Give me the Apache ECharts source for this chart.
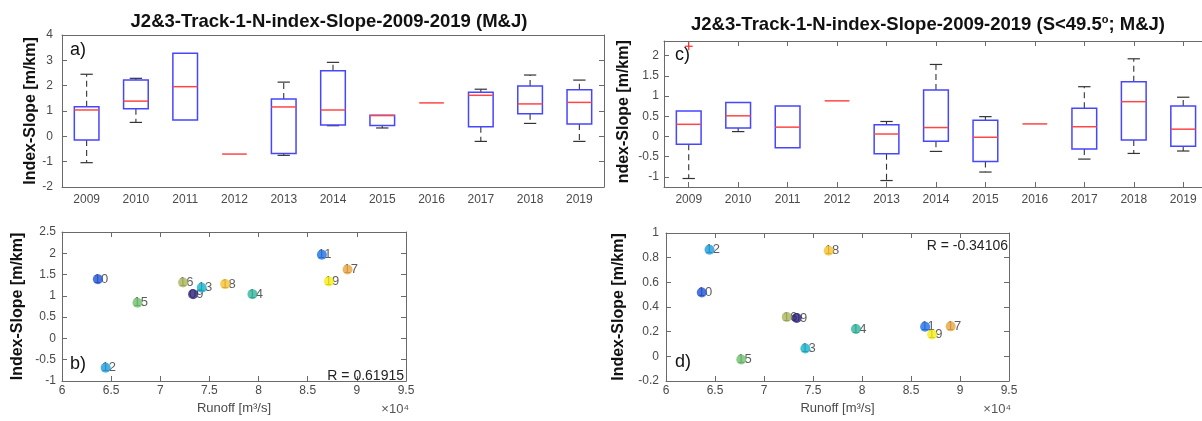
<!DOCTYPE html>
<html><head><meta charset="utf-8">
<script src="https://cdn.jsdelivr.net/npm/echarts@6/dist/echarts.min.js"></script>
<style>html,body{margin:0;padding:0;background:#fff}#c{width:1202px;height:421px}</style>
</head><body><div id="c"></div><script>
// ---------- data ----------
const years = ['2009','2010','2011','2012','2013','2014','2015','2016','2017','2018','2019'];
const pointLabels = ['09','10','11','12','13','14','15','16','17','18','19'];
// box stats per year: [lower whisker, q1, median, q3, upper whisker]
const boxA = [
  [-1.04, -0.14, 1.04, 1.17, 2.45],
  [0.55, 1.09, 1.39, 2.22, 2.29],
  [0.64, 0.64, 1.96, 3.28, 3.28],
  [-0.70, -0.70, -0.70, -0.70, -0.70],
  [-0.75, -0.68, 1.16, 1.47, 2.14],
  [0.42, 0.45, 1.04, 2.59, 2.92],
  [0.33, 0.43, 0.82, 0.83, 0.83],
  [1.32, 1.32, 1.32, 1.32, 1.32],
  [-0.20, 0.38, 1.62, 1.74, 1.86],
  [0.51, 0.89, 1.28, 1.99, 2.42],
  [-0.20, 0.49, 1.34, 1.84, 2.22]
];
const boxC = [
  [-1.04, -0.19, 0.30, 0.63, 0.63],
  [0.12, 0.21, 0.51, 0.84, 0.84],
  [-0.28, -0.28, 0.23, 0.75, 0.75],
  [0.88, 0.88, 0.88, 0.88, 0.88],
  [-1.09, -0.43, 0.06, 0.29, 0.37],
  [-0.37, -0.12, 0.22, 1.15, 1.78],
  [-0.88, -0.62, -0.02, 0.40, 0.49],
  [0.31, 0.31, 0.31, 0.31, 0.31],
  [-0.56, -0.31, 0.24, 0.70, 1.23],
  [-0.42, -0.09, 0.86, 1.35, 1.92],
  [-0.36, -0.24, 0.18, 0.75, 0.97]
];
const outliersC = [[0, 2.23]];
// runoff [m3/s] per year 2009..2019
const runoff = [73340, 63650, 86440, 64440, 74220, 79380, 67680, 72320, 89050, 76600, 87150];
const slopeB = [1.04, 1.393, 1.966, -0.687, 1.189, 1.040, 0.836, 1.315, 1.621, 1.276, 1.338];
const slopeD = [0.311, 0.517, 0.240, 0.864, 0.064, 0.221, -0.026, 0.319, 0.243, 0.856, 0.178];
const yearColors = ['#2b2178','#2152d6','#1c6fe3','#1d9bdc','#15b2c9','#30b79c','#6fbf6e','#a9b55a','#eaa53e','#f6c22e','#f7ee12'];
const yTicksC = [-1, -0.5, 0, 0.5, 1, 1.5, 2];
const yearIdx = years.map((y, i) => i);
const titleA = 'J2&3-Track-1-N-index-Slope-2009-2019 (M&J)';
const yName = 'Index-Slope [m/km]';
const xName = 'Runoff [m³/s]';
const rB = 'R = 0.61915';
const rD = 'R = -0.34106';

// ---------- styles ----------
const FONT = '"Liberation Sans", Arial, Helvetica, sans-serif';
const frame = {color: '#6a6a6a', width: 1};
const labelColor = '#4a4a4a';

function renderBox(params, api) {
  const i = api.value(0);
  const lo = api.value(1), q1 = api.value(2), md = api.value(3), q3 = api.value(4), hi = api.value(5);
  const band = api.size([1, 0])[0];
  const bw = band * 0.5, cw = band * 0.25;
  const pLo = api.coord([i, lo]), pQ1 = api.coord([i, q1]), pMd = api.coord([i, md]);
  const pQ3 = api.coord([i, q3]), pHi = api.coord([i, hi]);
  const x = pMd[0];
  const ch = [];
  const ws = {stroke: '#333', lineWidth: 1.1, lineDash: [6, 4]};
  const cs = {stroke: '#333', lineWidth: 1.2};
  if (hi > q3) {
    ch.push({type: 'line', shape: {x1: x, y1: pQ3[1], x2: x, y2: pHi[1]}, style: ws});
    ch.push({type: 'line', shape: {x1: x - cw / 2, y1: pHi[1], x2: x + cw / 2, y2: pHi[1]}, style: cs});
  }
  if (lo < q1) {
    ch.push({type: 'line', shape: {x1: x, y1: pQ1[1], x2: x, y2: pLo[1]}, style: ws});
    ch.push({type: 'line', shape: {x1: x - cw / 2, y1: pLo[1], x2: x + cw / 2, y2: pLo[1]}, style: cs});
  }
  if (q3 > q1) {
    ch.push({type: 'rect', shape: {x: x - bw / 2, y: pQ3[1], width: bw, height: pQ1[1] - pQ3[1]},
      style: {fill: 'none', stroke: '#4646ff', lineWidth: 1.5}});
  }
  ch.push({type: 'line', shape: {x1: x - bw / 2, y1: pMd[1], x2: x + bw / 2, y2: pMd[1]},
    style: {stroke: '#ff4646', lineWidth: 1.5}});
  return {type: 'group', children: ch};
}
function renderPlus(params, api) {
  const p = api.coord([api.value(0), api.value(1)]);
  const s = {stroke: '#ff3030', lineWidth: 1.2};
  return {type: 'group', children: [
    {type: 'line', shape: {x1: p[0] - 4, y1: p[1], x2: p[0] + 4, y2: p[1]}, style: s},
    {type: 'line', shape: {x1: p[0], y1: p[1] - 4, x2: p[0], y2: p[1] + 4}, style: s}
  ]};
}

function catAxis(g, pos) {
  return {gridIndex: g, type: 'category', data: years, position: pos, boundaryGap: true,
    axisLine: {onZero: false, lineStyle: frame},
    axisTick: {inside: true, alignWithLabel: true, length: 5, interval: 0, lineStyle: frame},
    axisLabel: {show: pos === 'bottom', color: labelColor, fontSize: 12, margin: 7, fontFamily: FONT, interval: 0},
    splitLine: {show: false}};
}
// panel c: year index axis (the panel runs past the right edge of the picture)
function idxAxis(g, pos) {
  return {gridIndex: g, type: 'value', position: pos, min: -0.5, max: 10.38,
    axisLine: {show: true, onZero: false, lineStyle: frame},
    axisTick: {show: true, inside: true, length: 5, lineStyle: frame, customValues: yearIdx},
    axisLabel: {show: pos === 'bottom', color: labelColor, fontSize: 12, margin: 7, fontFamily: FONT,
      customValues: yearIdx, formatter: v => years[Math.round(v)]},
    splitLine: {show: false}};
}
function valAxis(g, pos, min, max, interval, extra) {
  const a = {gridIndex: g, type: 'value', position: pos, min: min, max: max, interval: interval,
    axisLine: {show: true, onZero: false, lineStyle: frame},
    axisTick: {show: true, inside: true, length: 5, lineStyle: frame},
    axisLabel: {show: pos === 'bottom' || pos === 'left', color: labelColor, fontSize: 12, margin: 6, fontFamily: FONT},
    splitLine: {show: false}};
  return Object.assign(a, extra || {});
}
const yNameStyle = {color: '#111', fontSize: 16, fontWeight: 'bold', fontFamily: FONT};
const xNameStyle = {color: '#4a4a4a', fontSize: 13, fontFamily: FONT};
const runFmt = v => String(v / 1e4);

const option = {
  animation: false,
  backgroundColor: '#fff',
  title: [
    {text: titleA, left: 324, top: 7, textAlign: 'center',
      textStyle: {fontSize: 18.5, fontWeight: 'bold', color: '#111', fontFamily: FONT}},
    {text: '{t|J2&3-Track-1-N-index-Slope-2009-2019 (S<49.5}{s|o}{t|; M&J)}', left: 923, top: 9, textAlign: 'center',
      textStyle: {fontFamily: FONT, rich: {
        t: {fontSize: 18.5, fontWeight: 'bold', color: '#111', fontFamily: FONT, lineHeight: 22},
        s: {fontSize: 11, fontWeight: 'bold', color: '#111', fontFamily: FONT, verticalAlign: 'top', lineHeight: 22}
      }}}
  ],
  grid: [
    {left: 62, top: 35, width: 542, height: 152},
    {left: 664, top: 41, width: 538, height: 146},
    {left: 62, top: 232, width: 344, height: 149},
    {left: 666, top: 233, width: 343, height: 148}
  ],
  xAxis: [
    catAxis(0, 'bottom'), catAxis(0, 'top'),
    idxAxis(1, 'bottom'), idxAxis(1, 'top'),
    valAxis(2, 'bottom', 60000, 95000, 5000, {axisLabel: {color: labelColor, fontSize: 12, margin: 4, fontFamily: FONT, formatter: runFmt},
      name: xName, nameLocation: 'middle', nameGap: 21, nameTextStyle: xNameStyle}),
    valAxis(2, 'top', 60000, 95000, 5000),
    valAxis(3, 'bottom', 60000, 95000, 5000, {axisLabel: {color: labelColor, fontSize: 12, margin: 4, fontFamily: FONT, formatter: runFmt},
      name: xName, nameLocation: 'middle', nameGap: 21, nameTextStyle: xNameStyle}),
    valAxis(3, 'top', 60000, 95000, 5000)
  ],
  yAxis: [
    valAxis(0, 'left', -2, 4, 1, {axisLabel: {color: labelColor, fontSize: 12, margin: 9, fontFamily: FONT},
      name: yName, nameLocation: 'middle', nameGap: 22, nameRotate: 90, nameTextStyle: yNameStyle}),
    valAxis(0, 'right', -2, 4, 1),
    valAxis(1, 'left', -1.25, 2.36, null, {
      axisTick: {show: true, inside: true, length: 5, lineStyle: frame, customValues: yTicksC},
      axisLabel: {color: labelColor, fontSize: 12, margin: 5, fontFamily: FONT, customValues: yTicksC},
      name: yName, nameLocation: 'middle', nameGap: 32, nameRotate: 90, nameTextStyle: yNameStyle}),
    valAxis(2, 'left', -1, 2.5, 0.5, {axisLabel: {color: labelColor, fontSize: 12, margin: 6, fontFamily: FONT},
      name: yName, nameLocation: 'middle', nameGap: 36, nameRotate: 90, nameTextStyle: yNameStyle}),
    valAxis(2, 'right', -1, 2.5, 0.5),
    valAxis(3, 'left', -0.2, 1, 0.2, {axisLabel: {color: labelColor, fontSize: 12, margin: 7, fontFamily: FONT},
      name: yName, nameLocation: 'middle', nameGap: 39, nameRotate: 90, nameTextStyle: yNameStyle}),
    valAxis(3, 'right', -0.2, 1, 0.2)
  ],
  series: [
    {type: 'custom', xAxisIndex: 0, yAxisIndex: 0, renderItem: renderBox, encode: {x: 0, y: [1, 2, 3, 4, 5]},
      data: boxA.map((d, i) => [i].concat(d)), silent: true, z: 3},
    {type: 'custom', xAxisIndex: 2, yAxisIndex: 2, renderItem: renderBox, encode: {x: 0, y: [1, 2, 3, 4, 5]},
      data: boxC.map((d, i) => [i].concat(d)), silent: true, z: 3},
    {type: 'custom', xAxisIndex: 2, yAxisIndex: 2, renderItem: renderPlus, encode: {x: 0, y: 1},
      data: outliersC, silent: true, z: 4},
    // labels (under the dots)
    {type: 'scatter', xAxisIndex: 4, yAxisIndex: 3, symbolSize: 10, z: 2, silent: true,
      itemStyle: {color: 'rgba(0,0,0,0)'},
      label: {show: true, position: [1, 5], align: 'left', verticalAlign: 'middle', color: '#333', fontSize: 13, fontFamily: FONT,
        formatter: p => pointLabels[p.dataIndex]},
      data: runoff.map((r, i) => [r, slopeB[i]])},
    {type: 'scatter', xAxisIndex: 4, yAxisIndex: 3, symbolSize: 10, z: 3, silent: true,
      data: runoff.map((r, i) => ({value: [r, slopeB[i]], itemStyle: {color: yearColors[i]}}))},
    {type: 'scatter', xAxisIndex: 6, yAxisIndex: 5, symbolSize: 10, z: 2, silent: true,
      itemStyle: {color: 'rgba(0,0,0,0)'},
      label: {show: true, position: [1, 5], align: 'left', verticalAlign: 'middle', color: '#333', fontSize: 13, fontFamily: FONT,
        formatter: p => pointLabels[p.dataIndex]},
      data: runoff.map((r, i) => [r, slopeD[i]])},
    {type: 'scatter', xAxisIndex: 6, yAxisIndex: 5, symbolSize: 10, z: 3, silent: true,
      data: runoff.map((r, i) => ({value: [r, slopeD[i]], itemStyle: {color: yearColors[i]}}))}
  ],
  graphic: [
    {type: 'text', z: 50, style: {text: 'a)', x: 70, y: 50, fill: '#111', font: '18px ' + FONT, textAlign: 'left', textVerticalAlign: 'middle', align: 'left', verticalAlign: 'middle'}},
    {type: 'text', z: 50, style: {text: 'c)', x: 675, y: 55, fill: '#111', font: '18px ' + FONT, textAlign: 'left', textVerticalAlign: 'middle', align: 'left', verticalAlign: 'middle'}},
    {type: 'text', z: 50, style: {text: 'b)', x: 70, y: 364, fill: '#111', font: '18px ' + FONT, textAlign: 'left', textVerticalAlign: 'middle', align: 'left', verticalAlign: 'middle'}},
    {type: 'text', z: 50, style: {text: 'd)', x: 675, y: 362, fill: '#111', font: '18px ' + FONT, textAlign: 'left', textVerticalAlign: 'middle', align: 'left', verticalAlign: 'middle'}},
    {type: 'text', z: 50, style: {text: rB, x: 404, y: 376, fill: '#222', font: '14px ' + FONT, textAlign: 'right', textVerticalAlign: 'middle', align: 'right', verticalAlign: 'middle'}},
    {type: 'text', z: 50, style: {text: rD, x: 1008, y: 246, fill: '#222', font: '14px ' + FONT, textAlign: 'right', textVerticalAlign: 'middle', align: 'right', verticalAlign: 'middle'}},
    {type: 'text', z: 50, style: {text: '×10⁴', x: 409, y: 409, fill: '#555', font: '13px ' + FONT, textAlign: 'right', textVerticalAlign: 'middle', align: 'right', verticalAlign: 'middle'}},
    {type: 'text', z: 50, style: {text: '×10⁴', x: 1011, y: 409, fill: '#555', font: '13px ' + FONT, textAlign: 'right', textVerticalAlign: 'middle', align: 'right', verticalAlign: 'middle'}},
    {type: 'rect', z: 100, shape: {x: 612, y: 183.5, width: 26, height: 12}, style: {fill: '#fff'}}
  ]
};
const chart = echarts.init(document.getElementById('c'), null, {renderer: 'canvas'});
chart.setOption(option);
</script></body></html>
